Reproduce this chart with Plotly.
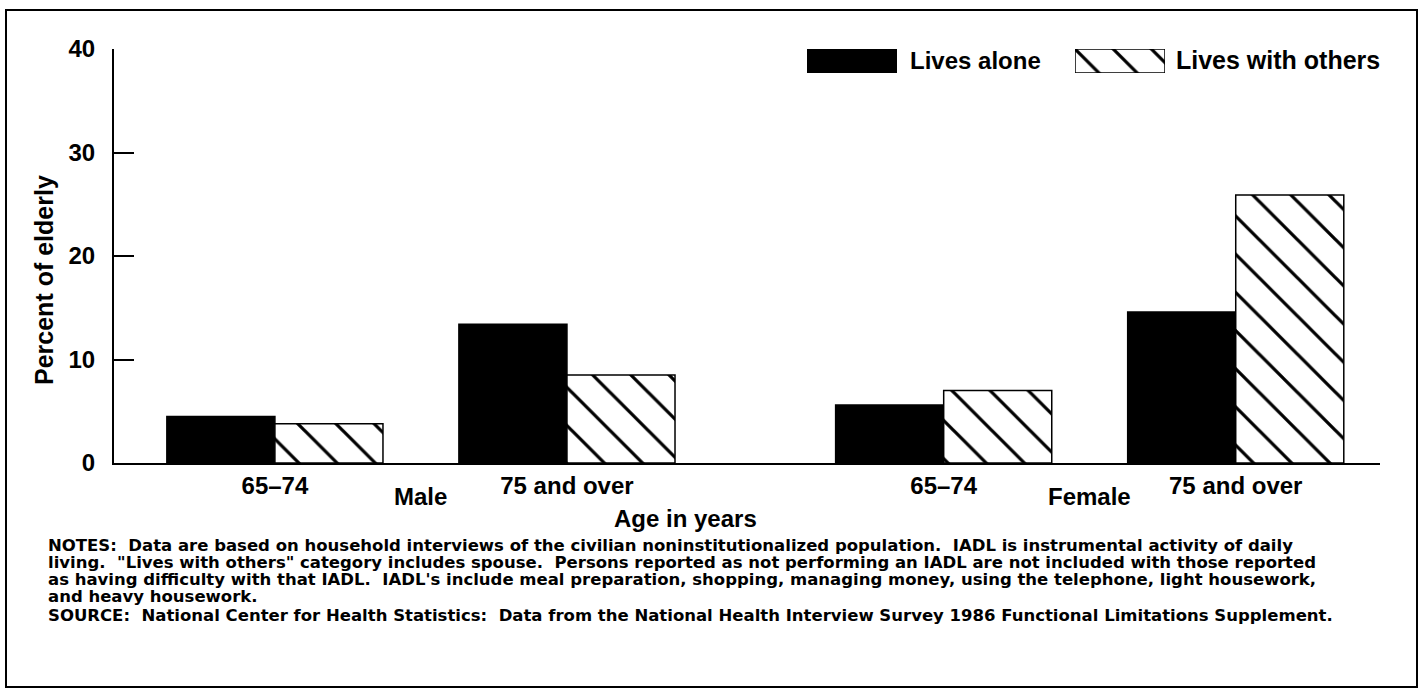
import plotly.graph_objects as go

# values (percent of elderly with IADL difficulty)
sexes = ["Male", "Female"]
age_groups = ["65\u201374", "75 and over"]
lives_alone = [4.5, 13.4, 5.6, 14.6]          # male 65-74, male 75+, female 65-74, female 75+
lives_with_others = [3.8, 8.5, 7.0, 25.9]
y_ticks = [0, 10, 20, 30, 40]

notes = [
    "NOTES:\u00a0 Data are based on household interviews of the civilian noninstitutionalized population.\u00a0 IADL is instrumental activity of daily",
    "living.\u00a0 \"Lives with others\" category includes spouse.\u00a0 Persons reported as not performing an IADL are not included with those reported",
    "as having difficulty with that IADL.\u00a0 IADL's include meal preparation, shopping, managing money, using the telephone, light housework,",
    "and heavy housework.",
    "SOURCE:\u00a0 National Center for Health Statistics:\u00a0 Data from the National Health Interview Survey 1986 Functional Limitations Supplement.",
]

FONT = "Liberation Sans, Arial, Helvetica, sans-serif"
NOTE_FONT = "DejaVu Sans, Verdana, sans-serif"
sex_gap = 0.29   # extra space between the male and female groups

# x position of each bar group, with a wider gap between the sexes
xpos, labels = [], []
for s in range(len(sexes)):
    for a in range(len(age_groups)):
        xpos.append(s * (len(age_groups) + sex_gap) + a)
        labels.append(age_groups[a])

hatch = dict(shape="\\", fgcolor="black", bgcolor="white", fgopacity=1,
             size=27, solidity=0.12, fillmode="replace")
outline = dict(color="black", width=1.5)

fig = go.Figure()
fig.add_trace(go.Bar(x=xpos, y=lives_alone, name="Lives alone",
                     marker=dict(color="black", line=outline)))
fig.add_trace(go.Bar(x=xpos, y=lives_with_others, name="Lives with others",
                     marker=dict(color="white", pattern=hatch, line=outline)))

# legend keys drawn as wide swatches on their own little axes
fig.add_trace(go.Bar(x=[0], y=[1], width=[1], xaxis="x2", yaxis="y2",
                     marker=dict(color="black", line=outline), showlegend=False, hoverinfo="skip"))
fig.add_trace(go.Bar(x=[0], y=[1], width=[1], xaxis="x3", yaxis="y3",
                     marker=dict(color="white", pattern=hatch, line=outline), showlegend=False, hoverinfo="skip"))

W, H = 1423, 689
L, R, T, B = 114, 43, 49, 226
pw, ph = W - L - R, H - T - B


def px(x):
    return (x - L) / pw


def py(y):
    return (H - B - y) / ph


key_ax = dict(visible=False, range=[-0.5, 0.5], fixedrange=True)
fig.update_layout(
    width=W, height=H,
    margin=dict(l=L, r=R, t=T, b=B),
    paper_bgcolor="white", plot_bgcolor="white",
    font=dict(family=FONT, color="black", size=24, weight="bold"),
    barmode="group", bargap=0.26, bargroupgap=0,
    showlegend=False,
    xaxis=dict(range=[-0.551, 3.784], tickvals=xpos, ticktext=labels, ticks="",
               showline=True, linecolor="black", linewidth=2, showgrid=False,
               zeroline=False, tickfont=dict(size=24, weight="bold")),
    yaxis=dict(range=[0, 40], tickvals=y_ticks, ticks="inside", ticklen=20, tickwidth=2,
               tickcolor="black", showline=True, linecolor="black", linewidth=2,
               showgrid=False, zeroline=False, tickfont=dict(size=24, weight="bold"),
               ticklabelstandoff=12),
    xaxis2=dict(domain=[px(807), px(897)], anchor="y2", **key_ax),
    yaxis2=dict(domain=[py(73), 1.0], anchor="x2", visible=False, range=[0, 1]),
    xaxis3=dict(domain=[px(1075), px(1165)], anchor="y3", **key_ax),
    yaxis3=dict(domain=[py(73), 1.0], anchor="x3", visible=False, range=[0, 1]),
)

ann = []
ann.append(dict(text="Lives alone", x=px(908), y=py(60), xanchor="left", yanchor="middle"))
ann.append(dict(text="Lives with others", x=px(1174), y=py(60), xanchor="left", yanchor="middle",
                font=dict(size=25)))
ann.append(dict(text="Percent of elderly", x=px(44), y=py(280), textangle=-90,
                xanchor="center", yanchor="middle", font=dict(size=25)))
ann.append(dict(text="Age in years", x=px(685), y=py(518), xanchor="center", yanchor="middle"))
for s, sex in enumerate(sexes):
    mid = (xpos[2 * s] + xpos[2 * s + 1]) / 2
    ann.append(dict(text=sex, x=mid, xref="x", y=py(497), xanchor="center", yanchor="middle"))
note_y = [545, 562, 579, 596, 615]
for line, yy in zip(notes, note_y):
    ann.append(dict(text=line, x=px(46), y=py(yy), xanchor="left", yanchor="middle",
                    font=dict(family=NOTE_FONT, size=16.5, weight="bold")))
for a in ann:
    a.setdefault("xref", "paper")
    a["yref"] = "paper"
    a["showarrow"] = False
fig.update_layout(annotations=ann)

# frame around the whole figure
fig.add_shape(type="rect", xref="paper", yref="paper",
              x0=px(6), x1=px(1417), y0=py(687), y1=py(10),
              line=dict(color="black", width=2))

# page has a default 8px body margin; drop it so the figure fills the window
fig.write_html("out.html", config={"displayModeBar": False},
               post_script="document.body.style.margin='0';")
